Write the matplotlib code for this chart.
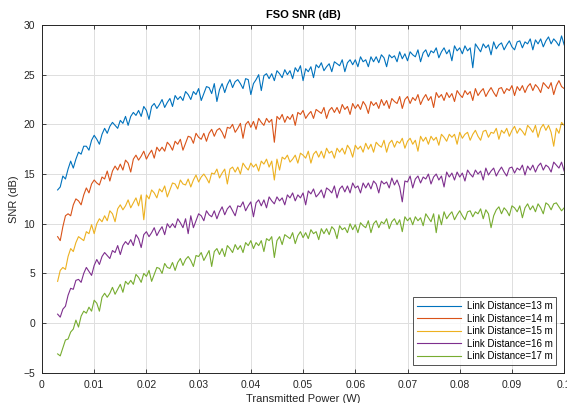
import numpy as np
import matplotlib
matplotlib.use("Agg")
from matplotlib import pyplot as plt

# potencia transmitida (W), 195 amostras de 0.003 a 0.1
P = np.linspace(0.003, 0.1, 195)

snr_13m = [
    13.4, 13.7, 14.8, 14.5, 15.5, 16.3, 15.6, 16.5, 17.2, 17.0,
    17.8, 17.8, 17.4, 18.4, 18.9, 18.5, 18.0, 19.0, 19.6, 19.1,
    19.8, 20.2, 19.9, 19.6, 20.4, 20.1, 20.8, 19.9, 20.8, 21.2,
    20.9, 21.4, 20.8, 21.8, 21.4, 20.5, 21.8, 22.1, 21.6, 22.0,
    22.5, 21.7, 22.2, 22.6, 21.8, 22.9, 22.5, 22.8, 22.4, 23.3,
    23.0, 22.5, 23.3, 23.0, 23.6, 22.4, 23.1, 23.8, 23.7, 23.1,
    24.1, 22.3, 23.5, 24.1, 23.2, 24.0, 24.5, 23.7, 24.3, 24.5,
    24.1, 23.6, 24.6, 24.5, 23.0, 24.1, 24.5, 25.0, 23.4, 24.9,
    25.1, 24.6, 25.1, 24.4, 25.4, 25.1, 24.7, 25.5, 25.0, 25.4,
    24.6, 25.7, 25.3, 25.9, 24.4, 25.6, 25.3, 25.8, 24.7, 26.0,
    25.7, 26.2, 25.4, 25.8, 26.1, 25.3, 26.3, 26.1, 25.9, 26.5,
    25.3, 26.2, 26.5, 26.0, 26.5, 25.8, 26.8, 26.3, 26.5, 25.8,
    26.8, 26.3, 26.8, 26.2, 27.0, 26.7, 25.8, 27.0, 26.7, 26.9,
    26.3, 27.3, 26.6, 27.1, 26.4, 27.3, 27.0, 26.8, 27.5, 26.3,
    27.2, 27.5, 26.8, 27.4, 27.2, 27.7, 26.7, 27.3, 27.7, 27.1,
    27.5, 26.4, 27.9, 27.4, 27.7, 27.1, 27.9, 27.4, 27.7, 25.7,
    28.1, 27.7, 27.3, 28.1, 27.7, 28.0, 27.0, 28.3, 27.6, 28.0,
    28.2, 27.5, 28.0, 28.4, 27.8, 27.5, 28.3, 28.4, 27.7, 28.3,
    28.1, 28.6, 27.5, 28.5, 28.1, 28.6, 27.8, 28.4, 28.8, 28.1,
    28.6, 28.3, 27.9, 28.9, 28.0,
]

snr_14m = [
    8.7, 8.3, 9.7, 10.8, 11.0, 10.8, 11.9, 12.5, 12.3, 11.9,
    12.9, 13.6, 13.1, 14.0, 14.4, 14.1, 13.9, 14.7, 14.5, 15.3,
    14.3, 15.3, 15.8, 15.4, 16.0, 15.4, 16.4, 16.1, 15.2, 16.5,
    16.9, 16.4, 16.8, 17.3, 16.5, 17.0, 17.4, 16.6, 17.7, 17.3,
    17.7, 17.3, 18.2, 17.9, 17.4, 18.3, 18.0, 18.5, 17.4, 18.1,
    18.8, 18.7, 18.1, 19.1, 18.7, 18.5, 19.1, 18.3, 19.1, 19.5,
    18.8, 19.4, 19.6, 19.2, 18.6, 19.7, 19.6, 20.0, 19.2, 19.6,
    20.1, 18.6, 20.0, 20.3, 19.7, 20.3, 19.5, 20.6, 20.2, 19.9,
    20.6, 20.2, 20.5, 18.2, 20.8, 20.5, 21.0, 20.2, 20.8, 20.5,
    21.0, 19.9, 21.2, 21.0, 21.4, 20.6, 21.0, 21.3, 20.6, 21.5,
    21.3, 21.1, 21.7, 20.6, 21.4, 21.7, 21.2, 21.7, 21.1, 22.0,
    21.5, 21.8, 21.0, 22.1, 21.6, 22.0, 21.5, 22.3, 21.9, 21.1,
    22.3, 21.9, 22.2, 21.6, 22.5, 21.9, 22.4, 21.6, 22.6, 22.3,
    22.1, 22.8, 21.6, 22.5, 22.8, 22.1, 22.7, 22.4, 23.0, 22.0,
    22.6, 23.0, 22.4, 22.8, 21.7, 23.2, 22.7, 23.0, 22.4, 23.2,
    22.7, 23.1, 22.3, 23.4, 23.0, 22.7, 23.4, 23.0, 23.3, 22.4,
    23.6, 22.9, 23.3, 23.6, 22.8, 23.3, 23.7, 23.2, 22.8, 23.6,
    23.7, 23.1, 23.6, 23.4, 23.9, 22.9, 23.8, 23.4, 23.9, 23.2,
    23.8, 24.1, 23.4, 24.0, 23.7, 23.2, 24.2, 23.9, 23.6, 24.2,
    23.0, 23.9, 24.4, 23.8, 23.6,
]

snr_15m = [
    4.2, 5.3, 5.6, 5.4, 6.7, 7.5, 7.2, 8.1, 8.7, 8.5,
    8.3, 9.2, 9.0, 9.9, 9.0, 10.0, 10.5, 10.2, 10.8, 10.3,
    11.3, 11.0, 10.2, 11.5, 11.9, 11.4, 11.8, 12.4, 11.6, 12.1,
    12.6, 11.8, 12.9, 10.4, 12.9, 12.5, 13.4, 13.1, 12.6, 13.5,
    13.2, 13.8, 12.7, 13.4, 14.1, 14.0, 13.5, 14.4, 14.0, 13.9,
    14.5, 13.7, 14.4, 14.9, 14.2, 14.7, 15.0, 14.6, 14.1, 15.1,
    15.0, 15.5, 14.6, 15.1, 15.5, 14.0, 15.5, 15.7, 15.2, 15.7,
    15.0, 16.1, 15.7, 15.4, 16.1, 15.7, 16.0, 15.3, 16.3, 16.0,
    16.5, 15.7, 16.3, 14.4, 16.5, 15.4, 16.7, 16.5, 16.9, 16.2,
    16.5, 16.9, 16.1, 17.1, 16.9, 16.6, 17.3, 16.1, 17.0, 17.3,
    16.7, 17.3, 16.6, 17.6, 17.1, 17.3, 16.6, 17.6, 17.2, 17.6,
    17.0, 17.9, 17.5, 16.7, 17.9, 17.5, 17.8, 17.2, 18.1, 17.5,
    18.0, 17.2, 18.2, 17.9, 17.7, 18.4, 17.2, 18.1, 18.4, 17.7,
    18.3, 18.1, 18.6, 17.6, 18.3, 18.6, 18.0, 18.4, 17.3, 18.8,
    18.3, 18.7, 18.0, 18.8, 18.4, 18.7, 17.9, 19.0, 18.7, 18.3,
    19.0, 18.7, 19.0, 18.0, 19.2, 18.6, 19.0, 19.2, 18.4, 19.0,
    19.4, 18.8, 18.4, 19.3, 19.4, 18.7, 19.2, 19.1, 19.6, 18.5,
    19.4, 19.1, 19.6, 18.8, 19.4, 19.8, 19.1, 19.6, 19.3, 18.9,
    19.9, 19.6, 19.2, 19.9, 18.7, 19.6, 20.0, 19.4, 19.9, 19.2,
    17.8, 19.6, 19.1, 20.2, 19.9,
]

snr_16m = [
    0.9, 0.6, 1.4, 1.7, 2.8, 3.5, 3.4, 4.3, 4.4, 4.1,
    5.0, 5.6, 5.2, 4.8, 5.8, 6.4, 5.9, 6.7, 7.1, 6.8,
    6.5, 7.3, 7.1, 7.8, 6.9, 7.8, 8.2, 7.9, 8.4, 7.8,
    8.9, 8.5, 7.6, 8.9, 9.2, 8.7, 9.1, 9.6, 8.8, 9.3,
    9.7, 8.9, 10.0, 9.6, 10.0, 9.6, 10.5, 10.1, 9.6, 10.5,
    9.0, 10.8, 9.6, 10.3, 11.0, 10.8, 10.3, 11.3, 10.9, 10.7,
    11.3, 10.5, 11.2, 11.7, 10.9, 11.5, 11.8, 11.3, 10.8, 11.8,
    11.7, 12.2, 11.3, 11.8, 12.2, 10.7, 12.1, 12.4, 11.8, 12.4,
    11.6, 12.7, 12.3, 12.0, 12.7, 12.3, 12.6, 11.9, 12.9, 12.6,
    13.1, 12.3, 12.9, 12.6, 13.1, 11.9, 13.3, 13.0, 13.5, 12.7,
    13.0, 13.4, 12.6, 13.6, 13.4, 13.1, 13.8, 12.6, 13.5, 13.8,
    13.2, 13.8, 13.1, 14.1, 13.6, 13.8, 13.1, 14.1, 13.6, 14.1,
    13.5, 14.3, 14.0, 13.1, 14.3, 14.0, 14.2, 13.6, 14.6, 13.9,
    14.4, 13.7, 12.2, 14.3, 14.2, 14.8, 13.6, 14.5, 14.8, 14.1,
    14.7, 14.5, 15.0, 14.0, 14.7, 15.0, 14.4, 14.8, 13.7, 15.2,
    14.7, 15.1, 14.4, 15.2, 14.7, 15.1, 14.3, 15.4, 15.0, 14.7,
    15.4, 15.0, 15.3, 14.4, 15.6, 14.9, 15.3, 15.6, 14.8, 15.3,
    15.7, 15.2, 14.8, 15.6, 15.7, 15.1, 15.6, 15.4, 15.9, 14.9,
    15.8, 15.4, 15.9, 15.2, 15.8, 16.1, 15.4, 15.9, 15.7, 15.2,
    16.2, 15.9, 15.6, 16.2, 15.3,
]

snr_17m = [
    -3.1, -3.3, -2.5, -1.7, -1.6, -0.9, -0.6, 0.3, -0.4, 0.7,
    1.2, 1.0, 1.6, 1.2, 2.3, 2.0, 1.2, 2.6, 3.0, 2.6,
    3.0, 3.6, 2.9, 3.4, 3.9, 3.1, 4.2, 3.9, 4.3, 3.9,
    4.9, 4.6, 4.1, 5.0, 4.7, 5.3, 4.2, 4.9, 5.6, 5.5,
    5.0, 6.0, 5.6, 5.5, 6.1, 5.3, 6.1, 6.5, 5.8, 6.4,
    6.7, 6.3, 5.7, 6.8, 6.7, 7.1, 6.3, 6.8, 7.3, 5.7,
    7.2, 7.5, 6.9, 7.5, 6.7, 7.8, 7.5, 7.1, 7.9, 7.4,
    7.8, 7.1, 8.1, 7.8, 8.3, 7.5, 8.1, 7.8, 8.3, 7.2,
    8.5, 8.3, 8.7, 6.6, 8.3, 8.7, 7.9, 8.9, 8.7, 8.5,
    9.1, 8.0, 8.8, 9.2, 8.6, 9.1, 8.5, 9.4, 9.0, 9.2,
    8.4, 9.5, 9.0, 9.5, 8.9, 9.7, 9.4, 8.5, 9.8, 9.4,
    9.6, 9.1, 10.0, 9.4, 9.9, 9.1, 10.1, 9.8, 9.6, 10.3,
    9.1, 10.0, 10.3, 9.6, 10.2, 10.0, 10.5, 9.5, 10.2, 10.5,
    9.9, 10.4, 9.2, 10.7, 10.3, 10.6, 9.9, 10.7, 10.3, 10.6,
    9.8, 11.0, 10.6, 10.2, 11.0, 9.1, 10.9, 9.9, 11.2, 10.5,
    10.9, 11.2, 10.4, 10.9, 11.3, 10.8, 10.4, 11.2, 11.3, 10.7,
    11.2, 11.0, 11.5, 10.5, 11.4, 11.0, 9.6, 10.8, 11.4, 11.7,
    11.0, 11.6, 11.3, 10.8, 11.8, 11.6, 11.2, 11.8, 10.6, 11.6,
    12.0, 11.4, 11.8, 11.2, 12.0, 11.6, 11.0, 12.1, 11.9, 11.4,
    12.0, 12.1, 11.7, 11.3, 11.6,
]

series = [snr_13m, snr_14m, snr_15m, snr_16m, snr_17m]
labels = ['Link Distance=13 m', 'Link Distance=14 m', 'Link Distance=15 m',
          'Link Distance=16 m', 'Link Distance=17 m']
cores = ['#0072BD', '#D95319', '#EDB120', '#7E2F8E', '#77AC30']

plt.rcParams['font.family'] = ['Liberation Sans', 'DejaVu Sans']

fig = plt.figure(figsize=(5.67, 4.03), dpi=100)
ax = fig.add_axes([0.074, 0.075, 0.921, 0.863])

for y, lab, c in zip(series, labels, cores):
    ax.plot(P, y, color=c, lw=0.8, label=lab)

ax.set_xlim(0, 0.1)
ax.set_ylim(-5, 30)
ax.set_xticks(np.arange(0, 0.101, 0.01))
ax.set_xticklabels(['0', '0.01', '0.02', '0.03', '0.04', '0.05',
                    '0.06', '0.07', '0.08', '0.09', '0.1'])
ax.set_yticks(np.arange(-5, 31, 5))
ax.grid(True, color='#dfdfdf', lw=0.7)
ax.set_axisbelow(True)
ax.tick_params(direction='in', top=True, right=True, length=3, width=0.6,
               labelsize=7.5, colors='#262626', pad=5)
for s in ax.spines.values():
    s.set_color('#262626')
    s.set_linewidth(0.7)

ax.set_title('FSO SNR (dB)', fontsize=8, fontweight='bold', pad=5)
ax.set_xlabel('Transmitted Power (W)', fontsize=8, color='#262626', labelpad=3)
ax.set_ylabel('SNR (dB)', fontsize=8, color='#262626', labelpad=3)

leg = ax.legend(loc='lower right', fontsize=7, frameon=True, fancybox=False,
                edgecolor='#262626', borderpad=0.4, handlelength=4.5,
                labelspacing=0.25, borderaxespad=0.8, handletextpad=0.6)
leg.get_frame().set_linewidth(0.7)

fig.savefig('out.png', dpi=100)
